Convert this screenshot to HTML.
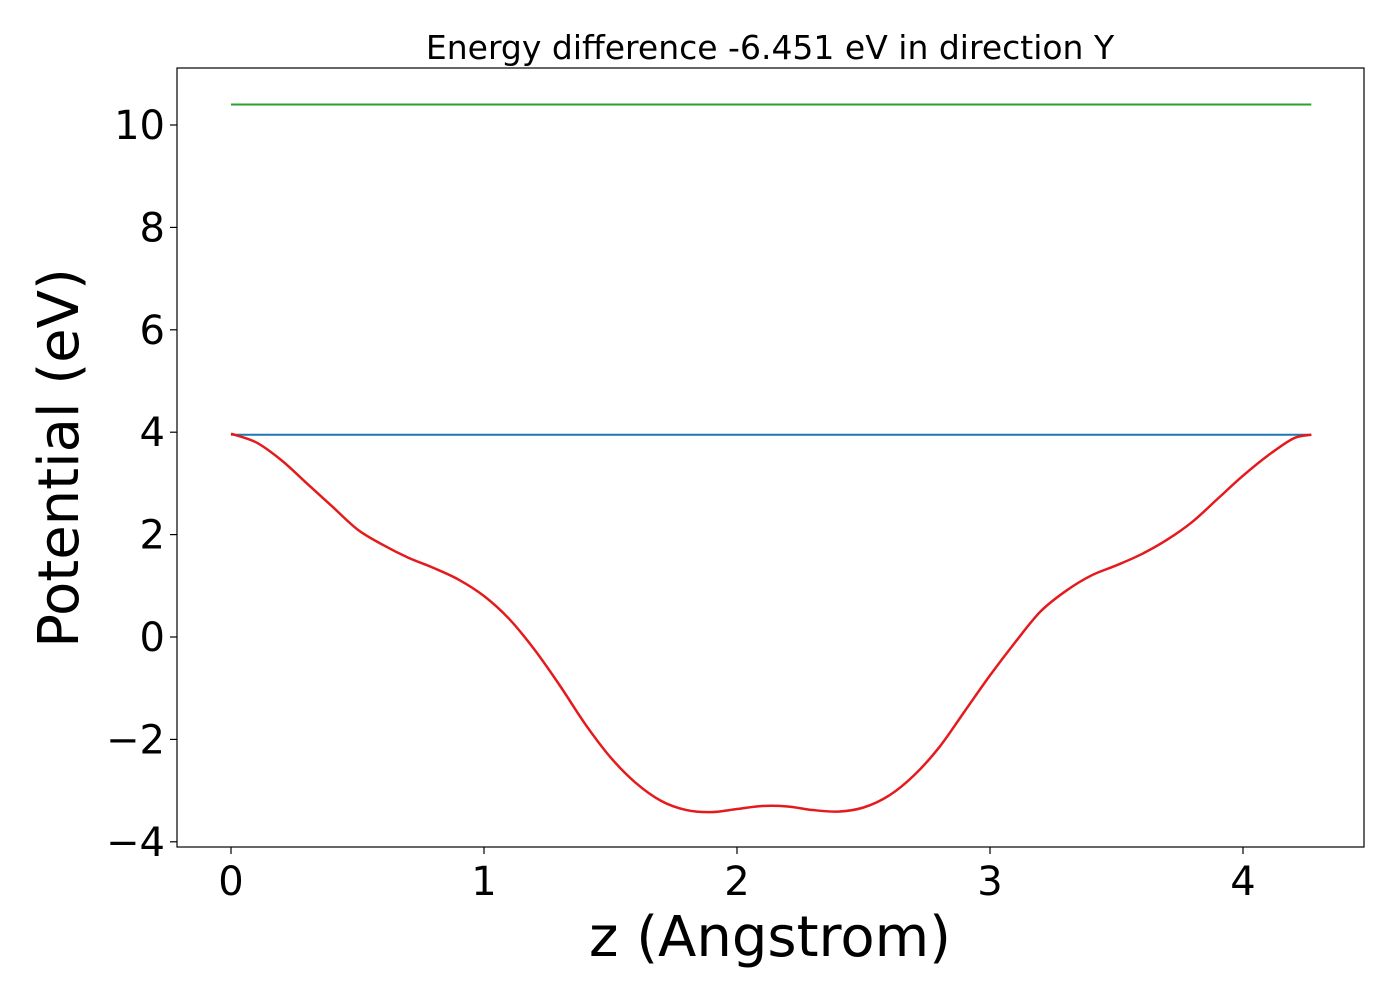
<!DOCTYPE html>
<html><head><meta charset="utf-8"><style>
body{margin:0;background:#fff;}
svg text{font-family:"DejaVu Sans","Liberation Sans",sans-serif;fill:#000;}
</style></head><body>
<svg id="chart" width="1400" height="1000" viewBox="0 0 1400 1000" xmlns="http://www.w3.org/2000/svg">
<rect width="1400" height="1000" fill="#fff"/>
<text x="770" y="59" font-size="33" text-anchor="middle">Energy difference -6.451 eV in direction Y</text>
<g id="plot"></g>
<rect x="177" y="68" width="1187" height="779" fill="none" stroke="#000" stroke-width="1.2"/>
<text x="770" y="956" font-size="56" text-anchor="middle">z (Angstrom)</text>
<text transform="translate(78,458) rotate(-90)" font-size="56" text-anchor="middle">Potential (eV)</text>
</svg>
<script>
const xTicks=[0,1,2,3,4];
const yTicks=[-4,-2,0,2,4,6,8,10];
const yTickLabels=["\u22124","\u22122","0","2","4","6","8","10"];
const zValues=[0,0.1,0.2,0.3,0.4,0.5,0.6,0.7,0.8,0.9,1.0,1.1,1.2,1.3,1.4,1.5,1.6,1.7,1.8,1.9,2.0,2.1,2.2,2.3,2.4,2.5,2.6,2.7,2.8,2.9,3.0,3.1,3.2,3.3,3.4,3.5,3.6,3.7,3.8,3.9,4.0,4.1,4.2,4.27];
const potential=[3.97,3.8,3.45,3.0,2.55,2.1,1.8,1.55,1.35,1.12,0.8,0.35,-0.25,-0.95,-1.7,-2.35,-2.85,-3.2,-3.38,-3.42,-3.36,-3.3,-3.31,-3.38,-3.41,-3.33,-3.1,-2.7,-2.15,-1.45,-0.75,-0.1,0.5,0.9,1.2,1.4,1.62,1.9,2.25,2.7,3.15,3.55,3.88,3.95];
const greenLevel=10.4;
const blueLevel=3.95;
const lineXRange=[0,4.27];

const X=v=>231+v*253;
const Y=v=>637-v*51.2;
const NS="http://www.w3.org/2000/svg";
const g=document.getElementById('plot');
function mk(t,a){const e=document.createElementNS(NS,t);for(const k in a)e.setAttribute(k,a[k]);g.appendChild(e);return e;}

xTicks.forEach(v=>{
  const t=mk('line',{x1:X(v),x2:X(v),y1:847,y2:854,stroke:'#000','stroke-width':1.2});
  
  
  const l=mk('text',{x:X(v),y:895,'font-size':40,'text-anchor':'middle'});
  l.textContent=String(v);
  
  
});
yTicks.forEach((v,i)=>{
  const t=mk('line',{x1:170,x2:177,y1:Y(v),y2:Y(v),stroke:'#000','stroke-width':1.2});
  
  
  const l=mk('text',{x:165,y:Y(v)+14,'font-size':40,'text-anchor':'end'});
  l.textContent=yTickLabels[i];
  
  
});

const gl=mk('line',{x1:X(lineXRange[0]),x2:X(lineXRange[1]),y1:Y(greenLevel),y2:Y(greenLevel),stroke:'#2ca02c','stroke-width':2});


const bl=mk('line',{x1:X(lineXRange[0]),x2:X(lineXRange[1]),y1:Y(blueLevel),y2:Y(blueLevel),stroke:'#1f77b4','stroke-width':2});



const pts=zValues.map((z,i)=>[X(z),Y(potential[i])]);
let d='M'+pts[0][0]+','+pts[0][1];
for(let i=0;i<pts.length-1;i++){
  const p0=pts[Math.max(0,i-1)],p1=pts[i],p2=pts[i+1],p3=pts[Math.min(pts.length-1,i+2)];
  const c1=[p1[0]+(p2[0]-p0[0])/6,p1[1]+(p2[1]-p0[1])/6];
  const c2=[p2[0]-(p3[0]-p1[0])/6,p2[1]-(p3[1]-p1[1])/6];
  d+=' C'+c1[0]+','+c1[1]+' '+c2[0]+','+c2[1]+' '+p2[0]+','+p2[1];
}
const rc=mk('path',{d:d,fill:'none',stroke:'#e41a1c','stroke-width':2.5});


</script>
</body></html>
